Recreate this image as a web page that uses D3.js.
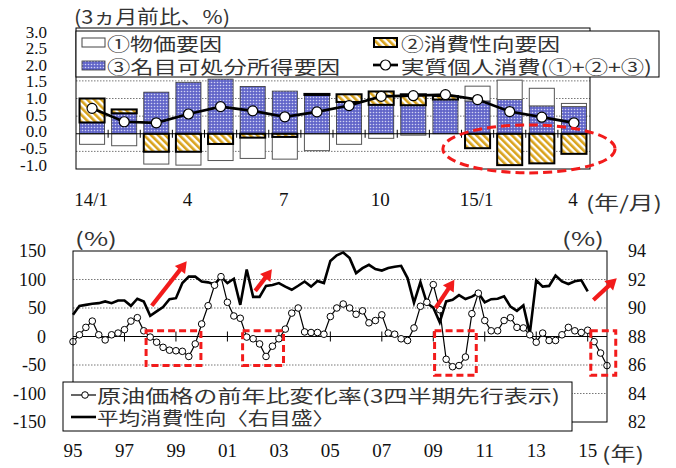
<!DOCTYPE html>
<html><head><meta charset="utf-8">
<script src="https://cdn.jsdelivr.net/npm/d3@7"></script>
<style>body{margin:0;background:#fff}svg{display:block}</style>
</head><body><svg id="c" width="676" height="468"></svg>
<script>
// ---------- TOP CHART DATA ----------
const months = ["2014-01","2014-02","2014-03","2014-04","2014-05","2014-06","2014-07","2014-08","2014-09","2014-10","2014-11","2014-12","2015-01","2015-02","2015-03","2015-04"];
const monthTickLabels = ["14/1","","","4","","","7","","","10","","","15/1","","","4"];
const priceFactor      = [-0.30,-0.34,-0.35,-0.38,-0.47,-0.59,-0.63,-0.48,-0.30,-0.13,-0.04,0.00,0.42,0.55,0.50,0.09];
const propensityFactor = [0.68,0.11,-0.51,-0.51,-0.29,-0.11,-0.09,0.03,0.22,0.38,0.31,0.10,-0.41,-0.89,-0.84,-0.57];
const incomeFactor     = [0.32,0.58,1.18,1.46,1.55,1.34,1.21,1.10,0.90,0.82,0.81,0.97,0.93,0.97,0.79,0.77];
const realConsumption  = [0.72,0.34,0.31,0.56,0.77,0.65,0.48,0.62,0.80,1.06,1.08,1.11,0.97,0.63,0.47,0.31];
const topTicks = [3.0,2.5,2.0,1.5,1.0,0.5,0.0,-0.5,-1.0];

// ---------- BOTTOM CHART DATA (quarterly from 1995Q1) ----------
const startYear = 1995;
const oilYoY = [-9,3,16,27,3,-6,3,6,12,27,33,10,-1,-10,-19,-24,-25,-26,-35,-13,22,54,90,105,60,36,32,-1,-4,-13,-35,-17,-4,13,41,50,8,7,7,4,35,50,57,50,39,45,24,28,38,6,4,-4,-7,15,53,60,91,47,-40,-53,-51,-36,40,76,28,10,10,28,33,16,15,3,-10,6,-7,-7,3,16,10,7,11,-9,-29,-51];
const apc = [89.52,90.15,90.22,90.30,90.34,90.46,90.34,90.53,90.53,90.15,90.65,90.46,89.45,89.76,90.06,90.62,90.69,91.75,92.2,92.2,91.86,91.8,91.65,92.2,91.75,92.05,90.22,92.7,90.78,90.78,91.55,91.62,91.75,91.5,91.28,91.56,91.86,91.5,91.9,91.75,93.3,93.7,93.9,93.5,92.45,92.8,93.03,92.73,92.63,92.8,92.9,92.96,92.1,90.36,91.82,90.35,90.03,89.0,90.46,90.58,90.9,90.63,90.8,91.05,90.4,90.62,90.65,90.82,90.1,89.8,90.18,88.2,91.95,91.5,91.55,92.28,91.86,91.68,91.88,91.95,91.16];
const yearTicks = [1995,1997,1999,2001,2003,2005,2007,2009,2011,2013,2015];
const yearTickLabels = ["95","97","99","01","03","05","07","09","11","13","15"];
const leftTicks = [150,100,50,0,-50,-100,-150];
const rightTicks = [94,92,90,88,86,84,82];

// annotations in data units
const highlightBoxes = [[1997.84,1999.97,10,-51],[2001.59,2003.18,10,-51],[2009.05,2010.67,10,-68],[2015.12,2016.09,10,-68]];
const upArrows = [[1998.06,54,1999.42,132],[2002.08,80,2002.73,118],[2009.09,50,2009.82,99.5],[2015.22,64,2016.13,102]];
const topEllipse = {idx:13.6, value:-0.43, rIdx:2.68, rValue:0.68};

const RED = "#f21b1b";
const SERIF = "Liberation Serif";
const JP = "Noto Sans CJK JP";

const svg = d3.select("#c");
const defs = svg.append("defs");
const pd = defs.append("pattern").attr("id","dots").attr("patternUnits","userSpaceOnUse").attr("width",3).attr("height",3);
pd.append("rect").attr("width",3).attr("height",3).attr("fill","#6266c9");
pd.append("circle").attr("cx",1.5).attr("cy",1.5).attr("r",0.8).attr("fill","#d0d2f2");
const ph = defs.append("pattern").attr("id","hatch").attr("patternUnits","userSpaceOnUse").attr("width",5).attr("height",5).attr("patternTransform","rotate(-45)");
ph.append("rect").attr("width",5).attr("height",5).attr("fill","#fff");
ph.append("rect").attr("width",2.6).attr("height",5).attr("fill","#d9a21b");

function txt(g, s, x, y, opt={}) {
  const t = g.append("text").attr("x",x).attr("y",y).text(s)
    .style("font-family", opt.jp ? JP : SERIF).attr("font-size", opt.size || 18)
    .attr("fill", opt.fill || "#111").attr("dominant-baseline","central")
    .attr("text-anchor", opt.anchor || "start");
  if (opt.len) t.attr("textLength", opt.len).attr("lengthAdjust","spacingAndGlyphs");
  return t;
}

// ================= TOP CHART =================
const gT = svg.append("g");
const tx = d3.scaleBand().domain(months).range([76,590]).paddingInner(0.22).paddingOuter(0.11);
const ty = d3.scaleLinear().domain([-1,3]).range([169,28]);
const tyLabel = d3.scaleLinear().domain([-1,3]).range([165,32]);
const idxX = d3.scaleLinear().domain([0,15]).range([tx(months[0])+tx.bandwidth()/2, tx(months[15])+tx.bandwidth()/2]);

gT.selectAll("line.grid").data(topTicks.filter(v=>v!==0 && v!==3 && v!==-1)).join("line")
  .attr("x1",76).attr("x2",590).attr("y1",d=>ty(d)).attr("y2",d=>ty(d))
  .attr("stroke","#777").attr("stroke-width",1).attr("stroke-dasharray","1.5,1.5");

const rows = months.map((m,i)=>({month:m, income:incomeFactor[i], propensity:propensityFactor[i], price:priceFactor[i]}));
const series = d3.stack().keys(["income","propensity","price"]).offset(d3.stackOffsetDiverging)(rows);
const styleOf = {
  income:{fill:"url(#dots)", stroke:"#333", sw:0.8},
  price:{fill:"#fff", stroke:"#555", sw:1},
  propensity:{fill:"url(#hatch)", stroke:"#000", sw:2}
};
["income","price","propensity"].forEach(k=>{
  const s = series.find(q=>q.key===k);
  gT.append("g").selectAll("rect").data(s.filter(d=>d[1]!==d[0])).join("rect")
    .attr("x",d=>tx(d.data.month)).attr("width",tx.bandwidth())
    .attr("y",d=>ty(d[1])).attr("height",d=>ty(d[0])-ty(d[1]))
    .attr("fill",styleOf[k].fill).attr("stroke",styleOf[k].stroke).attr("stroke-width",styleOf[k].sw);
});

gT.append("line").attr("x1",76).attr("x2",590).attr("y1",ty(0)).attr("y2",ty(0)).attr("stroke","#000").attr("stroke-width",1.2);
gT.selectAll("line.tk").data(d3.range(1,16)).join("line")
  .attr("x1",i=>76+i*tx.step()).attr("x2",i=>76+i*tx.step())
  .attr("y1",ty(0)-4).attr("y2",ty(0)+4).attr("stroke","#000").attr("stroke-width",1);

const lineT = d3.line().x((d,i)=>tx(months[i])+tx.bandwidth()/2).y(d=>ty(d));
gT.append("path").attr("d",lineT(realConsumption)).attr("fill","none").attr("stroke","#000").attr("stroke-width",2.7);
gT.selectAll("circle.pt").data(realConsumption).join("circle")
  .attr("cx",(d,i)=>tx(months[i])+tx.bandwidth()/2).attr("cy",d=>ty(d)).attr("r",5)
  .attr("fill","#fff").attr("stroke","#000").attr("stroke-width",1.2);

gT.append("rect").attr("x",76).attr("y",28).attr("width",514).attr("height",141).attr("fill","none").attr("stroke","#000").attr("stroke-width",1);

gT.append("ellipse").attr("cx",idxX(topEllipse.idx)).attr("cy",ty(topEllipse.value))
  .attr("rx",idxX(topEllipse.rIdx)-idxX(0)).attr("ry",ty(0)-ty(topEllipse.rValue))
  .attr("fill","none").attr("stroke",RED).attr("stroke-width",3).attr("stroke-dasharray","9,5");

const lgT = gT.append("g");
lgT.append("rect").attr("x",76).attr("y",31).attr("width",583).attr("height",46).attr("fill","#fff").attr("stroke","#000").attr("stroke-width",1);
lgT.append("rect").attr("x",82).attr("y",38).attr("width",23).attr("height",9).attr("fill","#fff").attr("stroke","#444").attr("stroke-width",1);
lgT.append("rect").attr("x",82).attr("y",61).attr("width",23).attr("height",9).attr("fill","url(#dots)").attr("stroke","#333").attr("stroke-width",0.8);
lgT.append("rect").attr("x",374).attr("y",38).attr("width",23).attr("height",9).attr("fill","url(#hatch)").attr("stroke","#000").attr("stroke-width",2);
lgT.append("line").attr("x1",373).attr("x2",398).attr("y1",65).attr("y2",65).attr("stroke","#000").attr("stroke-width",2.7);
lgT.append("circle").attr("cx",385.5).attr("cy",65).attr("r",5).attr("fill","#fff").attr("stroke","#000").attr("stroke-width",1.2);
txt(lgT,"①物価要因",107,43,{jp:1,size:18,len:115,fill:"#333"});
txt(lgT,"③名目可処分所得要因",107,66,{jp:1,size:18,len:233,fill:"#333"});
txt(lgT,"②消費性向要因",401,43,{jp:1,size:18,len:159,fill:"#333"});
txt(lgT,"実質個人消費(①+②+③)",401,66,{jp:1,size:18,len:251,fill:"#333"});

gT.selectAll("text.yl").data(topTicks).join("text").style("font-family",SERIF)
  .attr("x",47).attr("y",d=>tyLabel(d)).text(d=>d.toFixed(1))
  .attr("font-size",17).attr("text-anchor","end").attr("dominant-baseline","central").attr("fill","#111");
gT.selectAll("text.xl").data(months.filter((m,i)=>monthTickLabels[i]!=="")).join("text").style("font-family",SERIF)
  .attr("x",d=>tx(d)+tx.bandwidth()/2-1).attr("y",199).text(d=>monthTickLabels[months.indexOf(d)])
  .attr("font-size",19).attr("text-anchor","middle").attr("dominant-baseline","central").attr("fill","#111");
txt(gT,"(3ヵ月前比、%)",74,15,{jp:1,size:19,len:156,fill:"#333"});
txt(gT,"(年/月)",586,201,{jp:1,size:19,len:76,fill:"#333"});

// ================= BOTTOM CHART =================
const gB = svg.append("g");
const bx = d3.scaleLinear().domain([1995,2015.75]).range([73,607]);
const byL = d3.scaleLinear().domain([-150,150]).range([422,251]);
const byR = d3.scaleLinear().domain([82,94]).range([422,251]);
const tOf = i => startYear + i/4;

gB.selectAll("line.grid").data([100,50,-50,-100]).join("line")
  .attr("x1",73).attr("x2",607).attr("y1",d=>byL(d)).attr("y2",d=>byL(d))
  .attr("stroke","#777").attr("stroke-width",1).attr("stroke-dasharray","1.5,1.5");
gB.append("line").attr("x1",73).attr("x2",607).attr("y1",byL(0)).attr("y2",byL(0)).attr("stroke","#000").attr("stroke-width",1);
gB.selectAll("line.tk").data(yearTicks.slice(1)).join("line")
  .attr("x1",d=>bx(d)).attr("x2",d=>bx(d)).attr("y1",byL(0)-5).attr("y2",byL(0)+5).attr("stroke","#000").attr("stroke-width",1);

gB.append("path").attr("d",d3.line().x((d,i)=>bx(tOf(i))).y(d=>byR(d))(apc))
  .attr("fill","none").attr("stroke","#000").attr("stroke-width",2.6).attr("stroke-linejoin","miter");
gB.append("path").attr("d",d3.line().x((d,i)=>bx(tOf(i))).y(d=>byL(d))(oilYoY))
  .attr("fill","none").attr("stroke","#000").attr("stroke-width",1.2);
gB.selectAll("circle.oil").data(oilYoY).join("circle")
  .attr("cx",(d,i)=>bx(tOf(i))).attr("cy",d=>byL(d)).attr("r",3.3)
  .attr("fill","#fff").attr("stroke","#000").attr("stroke-width",1);

gB.append("rect").attr("x",73).attr("y",251).attr("width",534).attr("height",171).attr("fill","none").attr("stroke","#000").attr("stroke-width",1);

gB.selectAll("rect.hl").data(highlightBoxes).join("rect")
  .attr("x",d=>bx(d[0])).attr("y",d=>byL(d[2])).attr("width",d=>bx(d[1])-bx(d[0])).attr("height",d=>byL(d[3])-byL(d[2]))
  .attr("fill","none").attr("stroke",RED).attr("stroke-width",3).attr("stroke-dasharray","7,4");
upArrows.forEach(a=>{
  const x1=bx(a[0]), y1=byL(a[1]), x2=bx(a[2]), y2=byL(a[3]);
  const dx=x2-x1, dy=y2-y1, L=Math.hypot(dx,dy), ux=dx/L, uy=dy/L, hl=11, hw=6.5;
  const ex=x2-ux*hl, ey=y2-uy*hl;
  gB.append("line").attr("x1",x1).attr("y1",y1).attr("x2",ex+ux).attr("y2",ey+uy).attr("stroke",RED).attr("stroke-width",4.2);
  gB.append("polygon").attr("points",[[x2,y2],[ex-uy*hw,ey+ux*hw],[ex+uy*hw,ey-ux*hw]].map(p=>p.join(",")).join(" ")).attr("fill",RED);
});

const lgB = gB.append("g");
lgB.append("rect").attr("x",63).attr("y",382).attr("width",509).attr("height",49).attr("fill","#fff").attr("stroke","#000").attr("stroke-width",1);
lgB.append("line").attr("x1",71).attr("x2",96).attr("y1",395).attr("y2",395).attr("stroke","#000").attr("stroke-width",1.2);
lgB.append("circle").attr("cx",85).attr("cy",395).attr("r",3.3).attr("fill","#fff").attr("stroke","#000").attr("stroke-width",1);
lgB.append("line").attr("x1",71).attr("x2",96).attr("y1",417).attr("y2",417).attr("stroke","#000").attr("stroke-width",2.6);
txt(lgB,"原油価格の前年比変化率(3四半期先行表示)",97,395,{jp:1,size:18,len:463,fill:"#333"});
txt(lgB,"平均消費性向〈右目盛〉",97,417,{jp:1,size:18,len:237,fill:"#333"});

gB.selectAll("text.yl").data(leftTicks).join("text").style("font-family",SERIF)
  .attr("x",46).attr("y",d=>byL(d)).text(d=>d)
  .attr("font-size",18).attr("text-anchor","end").attr("dominant-baseline","central").attr("fill","#111");
gB.selectAll("text.yr").data(rightTicks).join("text").style("font-family",SERIF)
  .attr("x",628).attr("y",d=>byR(d)).text(d=>d)
  .attr("font-size",18).attr("text-anchor","start").attr("dominant-baseline","central").attr("fill","#111");
gB.selectAll("text.xl").data(yearTicks).join("text").style("font-family",SERIF)
  .attr("x",d=>bx(d)).attr("y",450).text((d,i)=>yearTickLabels[i])
  .attr("font-size",19).attr("text-anchor","middle").attr("dominant-baseline","central").attr("fill","#111");
txt(gB,"(%)",75,237,{jp:1,size:19,len:42,fill:"#333"});
txt(gB,"(%)",562,237,{jp:1,size:19,len:42,fill:"#333"});
txt(gB,"(年)",602,452,{jp:1,size:19,len:42,fill:"#333"});
</script></body></html>
